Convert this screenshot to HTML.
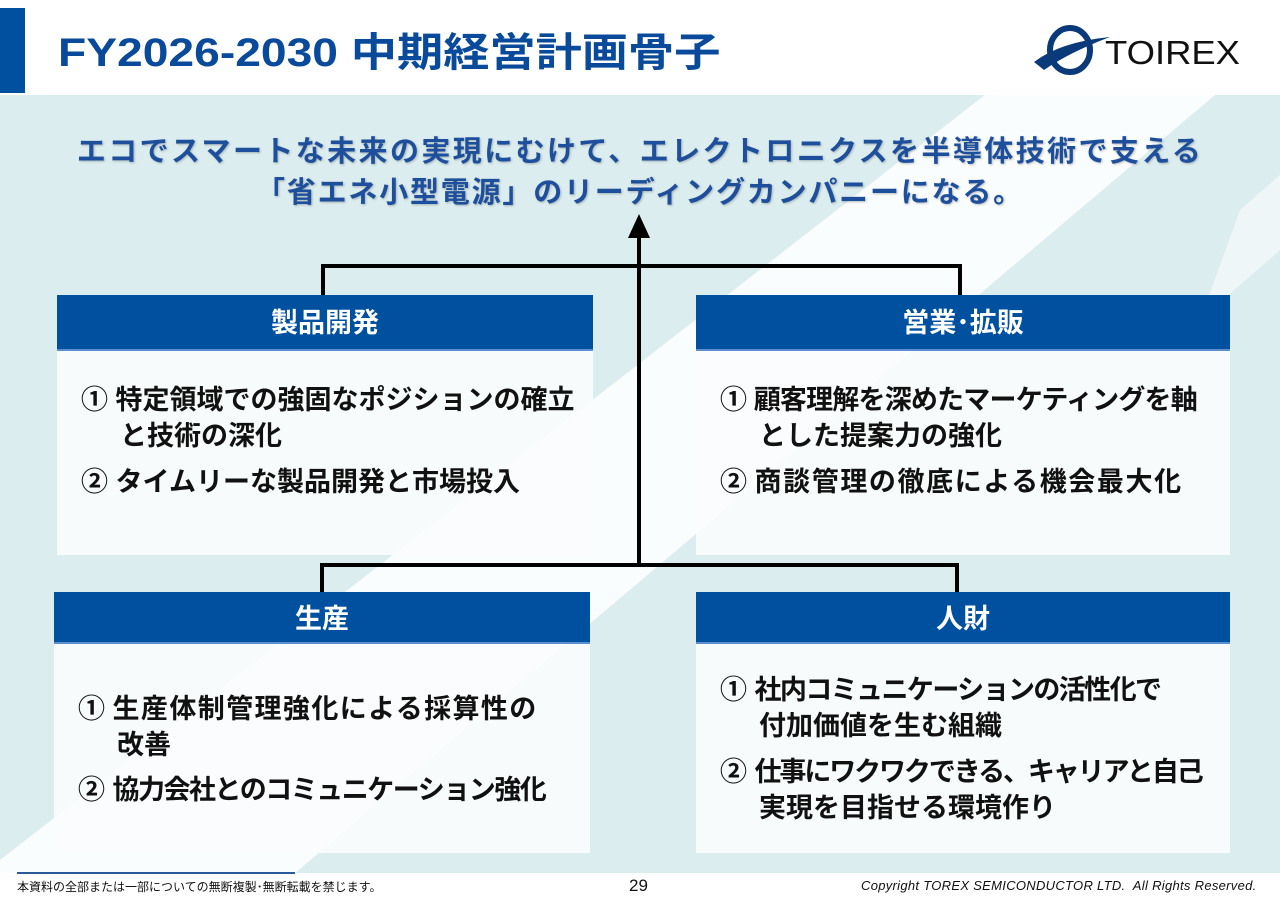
<!DOCTYPE html>
<html><head><meta charset="utf-8"><style>
*{margin:0;padding:0;box-sizing:border-box}
body{width:1280px;height:905px;position:relative;overflow:hidden;background:#fff;font-family:"Liberation Sans","Noto Sans CJK JP",sans-serif}
.abs{position:absolute}
.hdr{position:absolute;background:#0050a0;color:#fff;font-weight:bold;font-size:27px;text-align:center;border-bottom:2px solid #5b8fd0}
.body{position:absolute;background:rgba(250,252,253,0.93)}
.t{position:absolute;font-weight:bold;font-size:27px;color:#111;white-space:nowrap;line-height:1}
.sub{position:absolute;left:0;width:1280px;text-align:center;font-weight:bold;font-size:29px;color:#1d4f9c;white-space:nowrap;text-shadow:1px 1px 2px rgba(0,0,0,0.25)}
</style></head><body>
<div class="abs" style="left:0;top:95px;width:1280px;height:778px;background:#dcedef"></div>
<svg class="abs" style="left:0;top:0" width="1280" height="905">
<polygon points="985,95 1215,95 295,873 0,873 0,860" fill="#ffffff" opacity="0.85"/>
<polygon points="1240,210 1280,175 1280,250 1200,320" fill="#ffffff" opacity="0.5"/>
</svg>
<div class="abs" style="left:0;top:8px;width:25px;height:85px;background:#0050a0"></div>
<div class="abs" style="left:58px;top:33px;font-size:40px;font-weight:bold;color:#0a4a9a;white-space:nowrap;line-height:1;transform:scaleX(1.155);transform-origin:left top">FY2026-2030 中期経営計画骨子</div>
<svg class="abs" style="left:1030px;top:22px" width="220" height="60">
<ellipse cx="40" cy="28" rx="20" ry="22" fill="none" stroke="#0b3a7a" stroke-width="6"/>
<path d="M4,40 Q30,20 80,15 Q40,30 14,48 Z" fill="#0b3a7a"/>
<text x="75" y="42" font-family="Liberation Sans" font-size="33" fill="#111" textLength="135" lengthAdjust="spacingAndGlyphs">TOIREX</text>
</svg>
<div class="sub" style="top:128px;letter-spacing:2.4px">エコでスマートな未来の実現にむけて、エレクトロニクスを半導体技術で支える</div>
<div class="sub" style="top:169px;letter-spacing:1.8px">「省エネ小型電源」のリーディングカンパニーになる。</div>

<svg class="abs" style="left:0;top:0" width="1280" height="905">
<g stroke="#000" stroke-width="4" fill="none">
<polyline points="323,296 323,266 960,266 960,296"/>
<polyline points="322,593 322,565 957,565 957,593"/>
<line x1="639" y1="565" x2="639" y2="236"/>
</g>
<polygon points="639,214 628,238 650,238" fill="#000"/>
</svg>

<div class="hdr" style="left:57px;top:295px;width:536px;height:56px;line-height:56px">製品開発</div>
<div class="body" style="left:57px;top:351px;width:536px;height:204px"></div>
<div class="hdr" style="left:696px;top:295px;width:534px;height:56px;line-height:56px">営業･拡販</div>
<div class="body" style="left:696px;top:351px;width:534px;height:204px"></div>
<div class="hdr" style="left:54px;top:592px;width:536px;height:52px;line-height:54px">生産</div>
<div class="body" style="left:54px;top:644px;width:536px;height:209px"></div>
<div class="hdr" style="left:696px;top:592px;width:534px;height:52px;line-height:54px">人財</div>
<div class="body" style="left:696px;top:644px;width:534px;height:209px"></div>

<div class="t" style="left:81px;top:387px">① 特定領域での強固なポジションの確立</div>
<div class="t" style="left:120px;top:423px">と技術の深化</div>
<div class="t" style="left:81px;top:469px">② タイムリーな製品開発と市場投入</div>

<div class="t" style="left:720px;top:387px">①<span style="letter-spacing:-0.8px"> 顧客理解を深めたマーケティングを軸</span></div>
<div class="t" style="left:759px;top:423px">とした提案力の強化</div>
<div class="t" style="left:720px;top:469px">② <span style="letter-spacing:1.6px">商談管理の徹底による機会最大化</span></div>

<div class="t" style="left:78px;top:696px">① <span style="letter-spacing:1.4px">生産体制管理強化による採算性の</span></div>
<div class="t" style="left:117px;top:732px">改善</div>
<div class="t" style="left:78px;top:777px">② <span style="letter-spacing:-1.5px">協力会社とのコミュニケーション強化</span></div>

<div class="t" style="left:720px;top:677px">① <span style="letter-spacing:-1.6px">社内コミュニケーションの活性化で</span></div>
<div class="t" style="left:759px;top:713px">付加価値を生む組織</div>
<div class="t" style="left:720px;top:759px">② <span style="letter-spacing:-2.1px">仕事にワクワクできる、キャリアと自己</span></div>
<div class="t" style="left:759px;top:795px">実現を目指せる環境作り</div>

<div class="abs" style="left:17px;top:872px;width:278px;height:2px;background:#2a5a9a"></div>
<div class="abs" style="left:17px;top:878px;font-size:12px;color:#111;white-space:nowrap">本資料の全部または一部についての無断複製･無断転載を禁じます。</div>
<div class="abs" style="left:629px;top:876px;font-size:17px;color:#111">29</div>
<div class="abs" style="left:861px;top:878px;font-size:13px;font-style:italic;color:#111;white-space:nowrap;letter-spacing:0.3px">Copyright TOREX SEMICONDUCTOR LTD.&nbsp; All Rights Reserved.</div>
</body></html>
